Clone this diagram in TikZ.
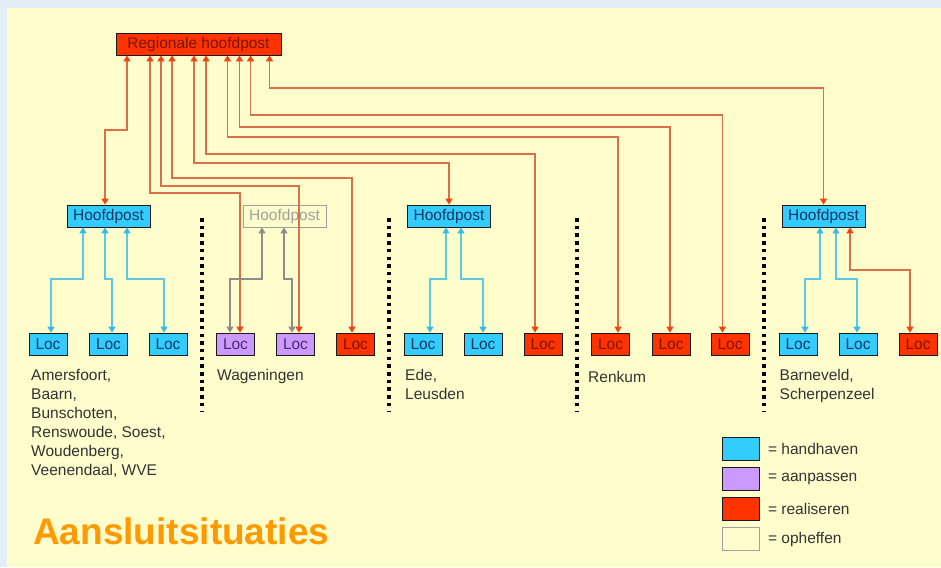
\documentclass[tikz,border=0pt]{standalone}
\usepackage{fontspec}
\setmainfont{Liberation Sans}
\usetikzlibrary{arrows.meta,positioning}

\definecolor{bgblue}{HTML}{E3EDF7}
\definecolor{cream}{HTML}{FFFDCC}
\definecolor{hblue}{HTML}{33CCFF}
\definecolor{hbluetext}{HTML}{17375E}
\definecolor{hpurple}{HTML}{CC99FF}
\definecolor{hpurpletext}{HTML}{4B2A6E}
\definecolor{hred}{HTML}{FF3300}
\definecolor{hredtext}{HTML}{7A1500}
\definecolor{ggray}{HTML}{A0A0A0}
\definecolor{boxline}{HTML}{1A1A1A}
\definecolor{rline}{HTML}{D9704A}
\definecolor{rtip}{HTML}{F5400F}
\definecolor{bline}{HTML}{5BC8E6}
\definecolor{btip}{HTML}{33BBEE}
\definecolor{gline}{HTML}{8C8C8C}
\definecolor{titleorange}{HTML}{FF9900}
\definecolor{labeltext}{HTML}{333333}

\tikzset{
  box/.style={draw=boxline, line width=0.8pt, minimum height=22pt, inner sep=0pt,
    font=\fontsize{15.5}{19}\selectfont},
  loc/.style={box, minimum width=38pt},
  hp/.style={box, minimum width=83pt},
  blauw/.style={fill=hblue, text=hbluetext},
  paars/.style={fill=hpurple, text=hpurpletext},
  rood/.style={fill=hred, text=hredtext},
  grijs/.style={draw=ggray, text=ggray},
  rlijn/.style={draw=rline, line width=1.3pt,
    >={Triangle[width=7pt,length=6pt,color=rtip]}, <->},
  blijn/.style={draw=bline, line width=1.3pt,
    >={Triangle[width=7pt,length=6pt,color=btip]}, <->},
  glijn/.style={draw=gline, line width=1.3pt,
    >={Triangle[width=7pt,length=6pt,color=gline]}, <->},
  stippel/.style={line width=4pt, dash pattern=on 3.5pt off 4.2pt},
  plaats/.style={anchor=north west, align=left, inner sep=0pt, text=labeltext,
    font=\fontsize{15.5}{19}\selectfont},
  legtekst/.style={inner sep=0pt, text=labeltext, font=\fontsize{15.5}{19}\selectfont},
}

\begin{document}
\begin{tikzpicture}[x=1pt,y=-1pt]
  \useasboundingbox (0,0) rectangle (941,567);
  \fill[bgblue] (0,0) rectangle (941,567);
  \fill[cream] (7,8) rectangle (941,567);

  % top
  \node[box, rood, minimum width=165pt] (reg) at (198.5,44) {Regionale hoofdpost};

  % hoofdposten
  \node[hp, blauw] (hp1) at (108.5,216) {Hoofdpost};
  \node[hp, grijs] (hp2) at (284.5,216) {Hoofdpost};
  \node[hp, blauw] (hp3) at (449,216) {Hoofdpost};
  \node[hp, blauw] (hp5) at (823.5,216) {Hoofdpost};

  % locaties
  \node[loc, blauw] (L1) at (48,344) {Loc};
  \node[loc, blauw] (L2) at (108.5,344) {Loc};
  \node[loc, blauw] (L3) at (168,344) {Loc};
  \node[loc, paars] (W1) at (235.5,344) {Loc};
  \node[loc, paars] (W2) at (295.5,344) {Loc};
  \node[loc, rood] (W3) at (355.5,344) {Loc};
  \node[loc, blauw] (E1) at (423,344) {Loc};
  \node[loc, blauw] (E2) at (483,344) {Loc};
  \node[loc, rood] (E3) at (543,344) {Loc};
  \node[loc, rood] (R1) at (610.5,344) {Loc};
  \node[loc, rood] (R2) at (671,344) {Loc};
  \node[loc, rood] (R3) at (730,344) {Loc};
  \node[loc, blauw] (B1) at (798,344) {Loc};
  \node[loc, blauw] (B2) at (858,344) {Loc};
  \node[loc, rood] (B3) at (918,344) {Loc};

  % verbindingen regionale hoofdpost
  \draw[rlijn] (reg.south -| 127,0) |- (105,130) -- (hp1.north -| 105,0);
  \draw[rlijn] (reg.south -| 150,0) |- (240,193) -- (W1.north -| 240,0);
  \draw[rlijn] (reg.south -| 161,0) |- (299,186) -- (W2.north -| 299,0);
  \draw[rlijn] (reg.south -| 172,0) |- (352,178) -- (W3.north -| 352,0);
  \draw[rlijn] (reg.south -| 194,0) |- (449,163) -- (hp3.north);
  \draw[rlijn] (reg.south -| 206,0) |- (535,154) -- (E3.north -| 535,0);
  \draw[rlijn] (reg.south -| 227.5,0) |- (618,137) -- (R1.north -| 618,0);
  \draw[rlijn] (reg.south -| 239.5,0) |- (670,127) -- (R2.north -| 670,0);
  \draw[rlijn] (reg.south -| 250.5,0) |- (722.5,115) -- (R3.north -| 722.5,0);
  \draw[rlijn] (reg.south -| 269.5,0) |- (823.5,88) -- (hp5.north);

  % verbindingen hoofdposten
  \draw[blijn] (hp1.south -| 83,0) |- (51,279) -- (L1.north -| 51,0);
  \draw[blijn] (hp1.south -| 105,0) |- (112,279) -- (L2.north -| 112,0);
  \draw[blijn] (hp1.south -| 127,0) |- (164,279) -- (L3.north -| 164,0);
  \draw[glijn] (hp2.south -| 262,0) |- (230,279) -- (W1.north -| 230,0);
  \draw[glijn] (hp2.south -| 284,0) |- (292,279) -- (W2.north -| 292,0);
  \draw[blijn] (hp3.south -| 446,0) |- (430,279) -- (E1.north -| 430,0);
  \draw[blijn] (hp3.south -| 461,0) |- (483,279) -- (E2.north -| 483,0);
  \draw[blijn] (hp5.south -| 820,0) |- (805,279) -- (B1.north -| 805,0);
  \draw[blijn] (hp5.south -| 836,0) |- (857,279) -- (B2.north -| 857,0);
  \draw[rlijn] (hp5.south -| 850,0) |- (910,270) -- (B3.north -| 910,0);

  % scheidingen
  \draw[stippel] (202,218) -- (202,412);
  \draw[stippel] (389,218) -- (389,412);
  \draw[stippel] (576.5,218) -- (576.5,412);
  \draw[stippel] (763.5,218) -- (763.5,412);

  % plaatsnamen
  \node[plaats] (tA) at (31,369) {Amersfoort,\\Baarn,\\Bunschoten,\\Renswoude, Soest,\\Woudenberg,\\Veenendaal, WVE};
  \node[plaats] (tW) at (217,369) {Wageningen};
  \node[plaats] (tE) at (405,369) {Ede,\\Leusden};
  \node[plaats] (tR) at (588,371.5) {Renkum};
  \node[plaats] (tB) at (779.5,369) {Barneveld,\\Scherpenzeel};

  % legenda
  \node[box, blauw, minimum width=37pt, minimum height=23pt] (lg1) at (741,449) {};
  \node[box, paars, minimum width=37pt, minimum height=23pt] (lg2) at (741,479) {};
  \node[box, rood, minimum width=37pt, minimum height=23pt] (lg3) at (741,509) {};
  \node[box, draw=ggray, fill=cream, minimum width=37pt, minimum height=23pt] (lg4) at (741,539) {};
  \node[legtekst, right=8pt of lg1] {= handhaven};
  \node[legtekst, right=8pt of lg2] {= aanpassen};
  \node[legtekst, right=8pt of lg3] {= realiseren};
  \node[legtekst, right=8pt of lg4] {= opheffen};

  \node[anchor=base west, inner sep=0pt, text=titleorange,
    font=\fontsize{37}{40}\selectfont\bfseries] (titel) at (33,544) {Aansluitsituaties};
\end{tikzpicture}
\end{document}
